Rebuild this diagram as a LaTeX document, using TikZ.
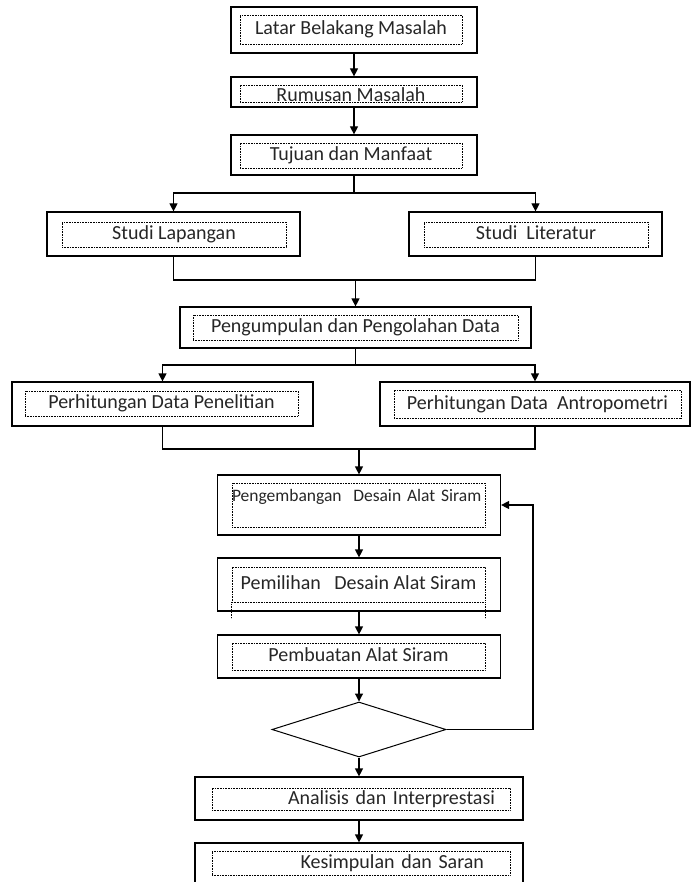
\documentclass[tikz,border=0pt]{standalone}
\usepackage{fontspec}
\setmainfont{Carlito}
\usetikzlibrary{arrows.meta,shapes.geometric}

\begin{document}
\begin{tikzpicture}[x=1pt, y=-1pt,
    kotak/.style={draw, line width=1.2pt, inner sep=0pt},
    titik/.style={dash pattern=on 0.7pt off 0.9pt, line width=0.7pt},
    isi/.style={draw, titik, inner sep=0pt, text height=14pt, text depth=4pt,
        font=\fontsize{20pt}{24pt}\selectfont, text=black!85},
    panah/.style={-{Triangle[width=8pt,length=8pt]}, line width=1.2pt},
    garis/.style={line width=1.2pt}]
    \useasboundingbox (0,0) rectangle (691,882);

    % 绘制 Latar Belakang Masalah
    \node[kotak, minimum width=246pt, minimum height=46pt] (latar) at (354,30) {};
    \node[isi, minimum width=222pt, minimum height=29pt] (latar_isi) at (351,29.5) {Latar Belakang Masalah};

    % 绘制 Rumusan Masalah
    \node[kotak, minimum width=246pt, minimum height=30pt] (rumusan) at (354,92) {};
    \node[isi, minimum width=222pt, minimum height=17pt, text height=17pt, text depth=0pt] (rumusan_isi) at (351,93.5) {Rumusan Masalah};

    % 绘制 Tujuan dan Manfaat
    \node[kotak, minimum width=246pt, minimum height=40pt] (tujuan) at (354,155) {};
    \node[isi, minimum width=222pt, minimum height=25pt] (tujuan_isi) at (351,155.5) {Tujuan dan Manfaat};

    % 绘制两个 Studi
    \node[kotak, minimum width=253pt, minimum height=44pt] (lapangan) at (173.5,234) {};
    \node[isi, minimum width=224pt, minimum height=25pt] (lapangan_isi) at (174,234.5) {Studi Lapangan};
    \node[kotak, minimum width=253pt, minimum height=44pt] (literatur) at (535.5,234) {};
    \node[isi, minimum width=224pt, minimum height=25pt] (literatur_isi) at (536,234.5) {Studi~~Literatur};

    % 绘制 Pengumpulan dan Pengolahan Data
    \node[kotak, minimum width=351pt, minimum height=41pt] (pengumpulan) at (355.5,327.5) {};
    \node[isi, minimum width=325pt, minimum height=25pt] (pengumpulan_isi) at (355.5,327.5) {Pengumpulan dan Pengolahan Data};

    % 绘制两个 Perhitungan
    \node[kotak, minimum width=301pt, minimum height=44pt] (penelitian) at (162.5,404) {};
    \node[isi, minimum width=273pt, minimum height=25pt] (penelitian_isi) at (161.5,403.5) {Perhitungan Data Penelitian};
    \node[kotak, minimum width=310pt, minimum height=44pt] (antropometri) at (535,404) {};
    \node[isi, minimum width=287pt, minimum height=28pt] (antropometri_isi) at (537.5,404) {Perhitungan Data~~Antropometri};

    % 绘制 Pengembangan Desain Alat Siram
    \node[kotak, minimum width=283pt, minimum height=60pt] (pengembangan) at (359,505) {};
    \node[isi, text width=253pt, align=left, text height=18.7pt, text depth=25.3pt,
        font=\fontsize{17.5pt}{21pt}\selectfont] (pengembangan_isi) at (358.5,505) {\mbox{Pengembangan~~Desain Alat Siram}};

    % 绘制 Pemilihan Desain Alat Siram
    \node[kotak, minimum width=283pt, minimum height=53pt] (pemilihan) at (359,584.5) {};
    \node[isi, minimum width=253pt, minimum height=35pt] (pemilihan_isi) at (358.5,584.5) {Pemilihan~~~Desain Alat Siram};
    \draw[titik] (pemilihan_isi.south west) -- ++(0,16);
    \draw[titik] (pemilihan_isi.south east) -- ++(0,16);

    % 绘制 Pembuatan Alat Siram
    \node[kotak, minimum width=283pt, minimum height=43pt] (pembuatan) at (359,656.5) {};
    \node[isi, minimum width=253pt, minimum height=27pt] (pembuatan_isi) at (358.5,656.5) {Pembuatan Alat Siram};

    % 绘制判断菱形
    \node[draw, diamond, line width=1pt, minimum width=174pt, minimum height=55pt, inner sep=0pt] (cek) at (359,729.5) {};

    % 绘制 Analisis dan Interprestasi
    \node[kotak, minimum width=328pt, minimum height=43pt] (analisis) at (359,798.5) {};
    \node[isi, text width=268pt, align=right, inner xsep=15pt, minimum height=22pt] (analisis_isi) at (361,799) {Analisis dan Interprestasi};

    % 绘制 Kesimpulan dan Saran
    \node[kotak, minimum width=328pt, minimum height=43pt] (kesimpulan) at (359,864.5) {};
    \node[isi, text width=246pt, align=right, inner xsep=26pt, minimum height=24pt] (kesimpulan_isi) at (361,863) {Kesimpulan dan Saran};

    % 标记分支与汇合点
    \coordinate (cabang_a) at (354,193);
    \coordinate (gabung_a) at (355.5,280);
    \coordinate (cabang_b) at (355.5,365);
    \coordinate (gabung_b) at (359,449);
    \coordinate (balik) at (533,505);

    % 绘制上方连线
    \draw[panah] (latar.south) -- (rumusan.north);
    \draw[panah] (rumusan.south) -- (tujuan.north);
    \draw[garis] (tujuan.south) -- (cabang_a);
    \draw[panah] (cabang_a) -| (lapangan.north);
    \draw[panah] (cabang_a) -| (literatur.north);
    \draw[garis] (lapangan.south) |- (gabung_a) -| (literatur.south);
    \draw[panah] (gabung_a) -- (pengumpulan.north);

    % 绘制中间连线
    \draw[garis] (pengumpulan.south) -- (cabang_b);
    \draw[panah] (cabang_b) -| (penelitian.north);
    \draw[panah] (cabang_b) -| (antropometri.north);
    \draw[garis] (penelitian.south) |- (gabung_b) -| (antropometri.south);
    \draw[panah] (gabung_b) -- (pengembangan.north);

    % 绘制下方连线与回路
    \draw[panah] (pengembangan.south) -- (pemilihan.north);
    \draw[panah] (pemilihan.south) -- (pembuatan.north);
    \draw[panah] (pembuatan.south) -- (cek.north);
    \draw[panah] (cek.south) -- (analisis.north);
    \draw[panah] (analisis.south) -- (kesimpulan.north);
    \draw[panah] (cek.east) -| (balik) -- (pengembangan.east);
\end{tikzpicture}
\end{document}
